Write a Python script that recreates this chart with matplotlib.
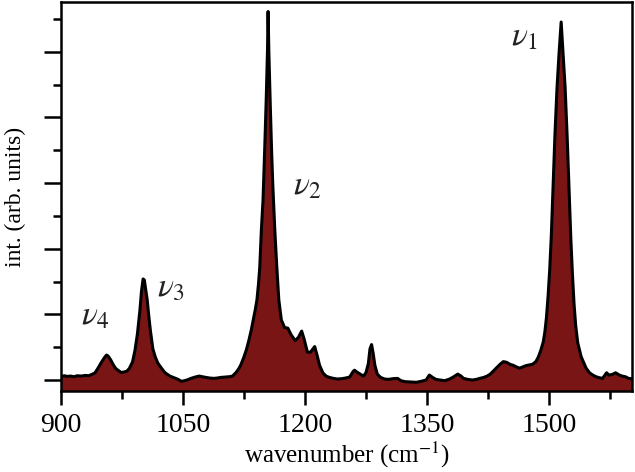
import matplotlib
matplotlib.use('Agg')
import matplotlib.pyplot as plt
from matplotlib.ticker import MultipleLocator

plt.rcParams['font.family'] = ['Liberation Serif', 'DejaVu Serif']
plt.rcParams['mathtext.fontset'] = 'stix'

# Raman spectrum
wavenumber = [900, 904, 908, 912, 916, 920, 925, 930, 934, 938, 942, 946, 950, 954, 956, 958,
              961, 964, 967, 970, 974, 977, 981, 984, 988, 991, 994, 997, 999, 1001, 1002.5,
              1004, 1006, 1008, 1010, 1013, 1016, 1019, 1023, 1028, 1034, 1040, 1044, 1048,
              1052, 1056, 1060, 1065, 1070, 1074, 1078, 1083, 1088, 1092, 1097, 1102, 1107,
              1111, 1115, 1118, 1121, 1125, 1128, 1131, 1134, 1137, 1139, 1141, 1143, 1144.5,
              1146.5, 1148.5, 1150.5, 1152.4, 1154.0, 1154.7, 1155.6, 1157.2, 1159.0, 1160.4,
              1162.9, 1165.4, 1167.9, 1171, 1175, 1179, 1183, 1188, 1192, 1196, 1199, 1203,
              1207, 1212, 1215, 1218, 1222, 1226, 1230, 1235, 1240, 1245, 1250, 1255, 1259,
              1261, 1264, 1268, 1272, 1275, 1278, 1280, 1282, 1284, 1286, 1289, 1293, 1298,
              1303, 1308, 1314, 1318, 1323, 1330, 1337, 1343, 1349, 1353, 1357, 1361, 1366,
              1372, 1378, 1383, 1388, 1392, 1395, 1400, 1406, 1411, 1415, 1420, 1424, 1428,
              1432, 1436, 1440, 1444, 1448, 1452, 1456, 1460, 1464, 1468, 1472, 1476, 1480,
              1484, 1487, 1490, 1493, 1495, 1497, 1499, 1501, 1503, 1505, 1507.5, 1510,
              1512.5, 1515.1, 1517.5, 1520, 1522.5, 1525, 1527, 1529, 1531, 1533, 1535.5,
              1539.7, 1545.8, 1550, 1554, 1558, 1562, 1566, 1569, 1571, 1574, 1578, 1582,
              1586, 1590, 1594, 1598, 1602]
intensity = [0.10, 0.13, 0.11, 0.12, 0.10, 0.13, 0.12, 0.14, 0.13, 0.17, 0.22, 0.38, 0.55, 0.70,
             0.76, 0.73, 0.62, 0.48, 0.36, 0.30, 0.23, 0.24, 0.27, 0.35, 0.55, 0.90, 1.40,
             2.10, 2.70, 3.08, 3.05, 2.80, 2.45, 1.95, 1.50, 0.95, 0.70, 0.52, 0.38, 0.22,
             0.12, 0.06, 0.02, -0.04, -0.02, 0.01, 0.05, 0.09, 0.12, 0.10, 0.08, 0.06, 0.05,
             0.06, 0.08, 0.09, 0.10, 0.12, 0.22, 0.32, 0.45, 0.70, 0.92, 1.20, 1.52, 1.90,
             2.15, 2.44, 2.95, 3.45, 4.60, 5.49, 7.00, 8.54, 10.06, 11.23, 10.06, 8.54, 7.00,
             6.00, 4.60, 3.45, 2.44, 1.83, 1.60, 1.58, 1.38, 1.20, 1.30, 1.49, 1.25, 0.85,
             0.85, 1.02, 0.75, 0.45, 0.22, 0.12, 0.08, 0.05, 0.03, 0.04, 0.06, 0.09, 0.25,
             0.30, 0.24, 0.18, 0.12, 0.22, 0.50, 0.95, 1.08, 0.80, 0.45, 0.18, 0.08, 0.03,
             0.02, 0.04, 0.05, -0.02, -0.05, -0.06, -0.07, -0.04, 0.00, 0.15, 0.08, 0.02,
             0.00, -0.02, 0.03, 0.10, 0.18, 0.12, 0.05, 0.02, 0.00, 0.02, 0.05, 0.08, 0.12,
             0.18, 0.28, 0.38, 0.48, 0.56, 0.54, 0.48, 0.45, 0.40, 0.36, 0.40, 0.44, 0.46,
             0.48, 0.56, 0.70, 0.90, 1.15, 1.45, 1.90, 2.55, 3.35, 4.40, 5.80, 7.50, 8.90,
             9.95, 10.91, 9.95, 8.90, 7.40, 5.70, 4.30, 3.20, 2.30, 1.65, 1.13,
             0.71, 0.36, 0.22, 0.15, 0.10, 0.07, 0.05, 0.15, 0.22, 0.15, 0.17, 0.22, 0.16,
             0.12, 0.10, 0.05, 0.04]

# band labels
band_x = [925, 1018, 1185, 1453]
band_y = [1.95, 2.8, 5.9, 10.45]
band_labels = [r'$\nu_4$', r'$\nu_3$', r'$\nu_2$', r'$\nu_1$']

fig = plt.figure(figsize=(6.35, 4.72), dpi=100)
ax = fig.add_axes([0.096, 0.1716, 0.899, 0.8242])

ymin = -0.335
ax.fill_between(wavenumber, intensity, ymin, color='#7a1515', lw=0)
ax.plot(wavenumber, intensity, color='black', lw=2.2)

for bx, by, bl in zip(band_x, band_y, band_labels):
    ax.text(bx, by, bl, fontsize=24, ha='left', va='center', color='#222222')

ax.set_xlim(900, 1602)
ax.set_ylim(ymin, 11.52)
ax.xaxis.set_major_locator(MultipleLocator(150))
ax.xaxis.set_minor_locator(MultipleLocator(75))
ax.yaxis.set_major_locator(MultipleLocator(2))
ax.yaxis.set_minor_locator(MultipleLocator(1))
ax.set_yticklabels([])
ax.tick_params(which='major', direction='out', length=10, width=1.8, labelsize=20, pad=6)
ax.tick_params(which='minor', direction='out', length=6, width=1.8)
ax.tick_params(axis='y', which='major', length=12)
for s in ax.spines.values():
    s.set_linewidth(1.8)

ax.set_xlabel(r'wavenumber (cm$^{-1}$)', fontsize=18, labelpad=1)
ax.set_ylabel('int. (arb. units)', fontsize=17)
ax.yaxis.set_label_coords(-0.062, 0.5)

fig.savefig('out.png', dpi=100)
